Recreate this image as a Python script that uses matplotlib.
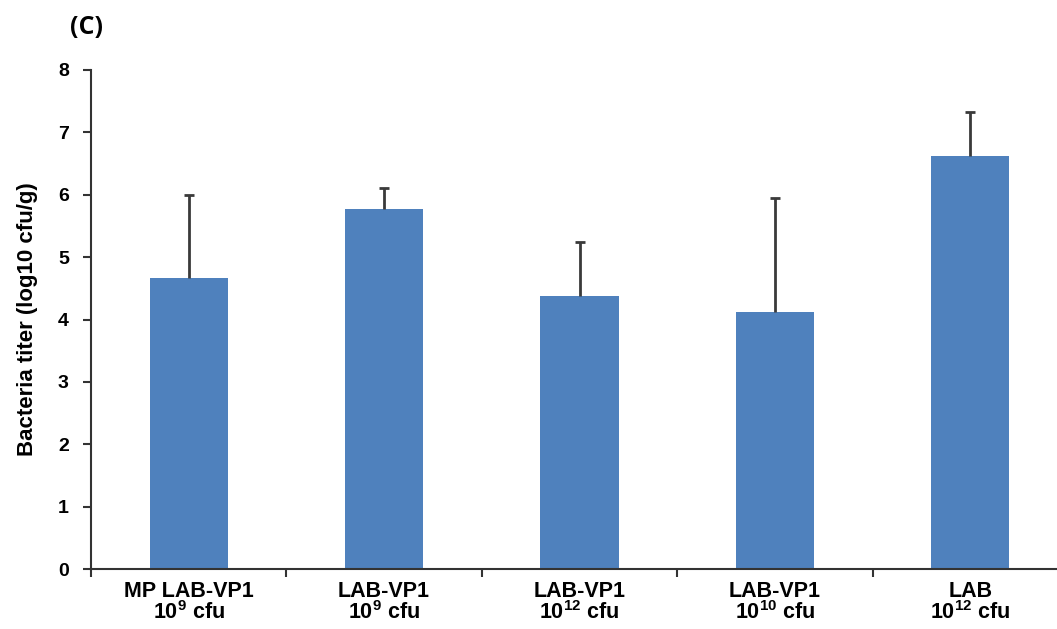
import matplotlib
matplotlib.use("Agg")
import matplotlib.pyplot as plt
import matplotlib.transforms as mtransforms
import numpy as np

# data
groups = ["MP LAB-VP1", "LAB-VP1", "LAB-VP1", "LAB-VP1", "LAB"]
doses = ["9", "9", "12", "10", "12"]
titer = [4.66, 5.77, 4.37, 4.12, 6.62]
titer_sd = [1.33, 0.34, 0.87, 1.83, 0.70]

plt.rcParams["font.family"] = ["Liberation Sans", "DejaVu Sans"]
plt.rcParams["mathtext.fontset"] = "custom"
plt.rcParams["mathtext.rm"] = "Liberation Sans:bold"
plt.rcParams["mathtext.it"] = "Liberation Sans:bold"
plt.rcParams["mathtext.bf"] = "Liberation Sans:bold"

W, H = 1057, 629
fig = plt.figure(figsize=(W / 100, H / 100), dpi=100)
# axes placed in pixel terms (the x axis runs slightly off the right edge)
left, right, top, bottom = 91, 1068, 70, 569
ax = fig.add_axes([left / W, 1 - bottom / H, (right - left) / W, (bottom - top) / H])

x = np.arange(len(groups))
ax.bar(x, titer, width=0.40, color="#4F81BD", zorder=2)
eb = ax.errorbar(x, titer, yerr=[np.zeros(len(titer)), titer_sd], fmt="none",
                 ecolor="#3a3a3a", elinewidth=2, capsize=3.5, capthick=2, zorder=3)
# only the upper cap is drawn in the original
eb[1][0].set_visible(False)

ax.set_xlim(-0.5, len(groups) - 0.5)
ax.set_ylim(0, 8)
ax.set_yticks(range(0, 9))
ax.set_yticklabels([str(i) for i in range(0, 9)], fontsize=14, fontweight="bold")

# ticks between categories; the two-line labels are placed as separate rows
ax.set_xticks(np.arange(-0.5, len(groups), 1.0))
ax.set_xticklabels([])
ax.tick_params(axis="x", which="major", length=6, width=1.5, color="#333333")
ax.tick_params(axis="y", length=6, width=1.5, color="#333333", pad=10)

# row offsets in pixels below the x axis (baselines)
base = mtransforms.blended_transform_factory(ax.transData, ax.transAxes)
row1 = mtransforms.offset_copy(base, fig=fig, y=-28, units="dots")
row2 = mtransforms.offset_copy(base, fig=fig, y=-50, units="dots")
for xi, g, d in zip(x, groups, doses):
    ax.text(xi, 0, g, transform=row1, ha="center", va="baseline",
            fontsize=15.5, fontweight="bold", clip_on=False)
    ax.text(xi, 0, f"10$^{{{d}}}$ cfu", transform=row2, ha="center",
            va="baseline", fontsize=15.5, fontweight="bold", clip_on=False)

for s in ["top", "right"]:
    ax.spines[s].set_visible(False)
for s in ["left", "bottom"]:
    ax.spines[s].set_linewidth(1.5)
    ax.spines[s].set_color("#333333")

ax.set_ylabel("Bacteria titer (log10 cfu/g)", fontsize=16, fontweight="bold",
              labelpad=14)

fig.text(70 / W, 1 - 27 / H, "(C)", fontsize=18, fontweight="bold",
         family=["Open Sans", "DejaVu Sans"], va="center", ha="left")

fig.savefig("out.png", dpi=100)
